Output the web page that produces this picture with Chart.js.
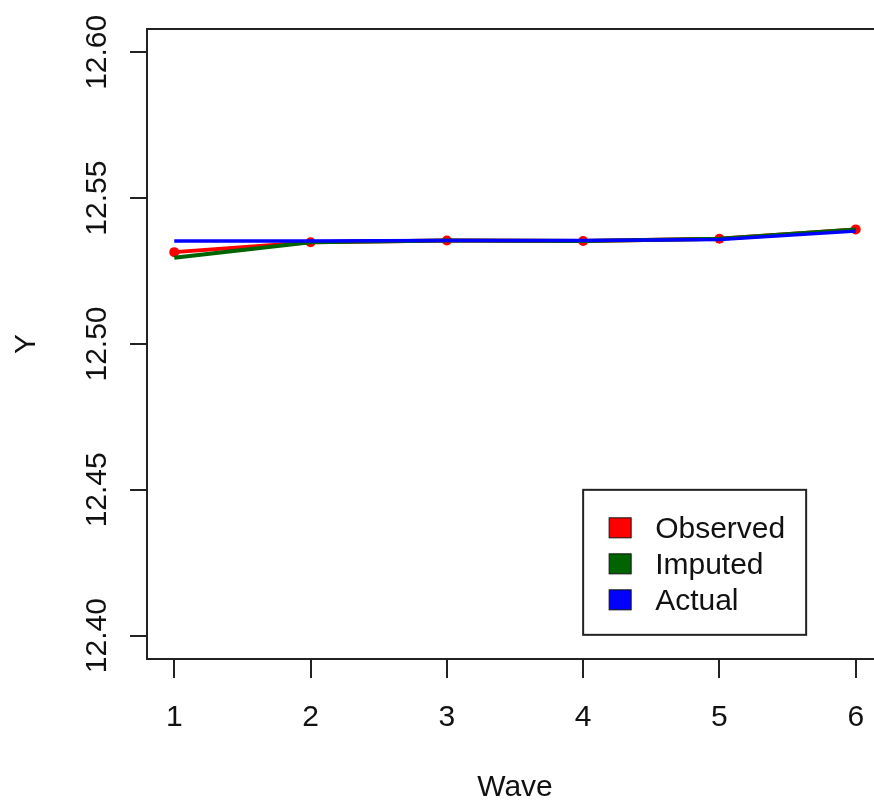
<!DOCTYPE html>
<html>
<head>
<meta charset="utf-8">
<script src="https://cdn.jsdelivr.net/npm/chart.js@4.4.1/dist/chart.umd.min.js"></script>
<style>
  html, body { margin: 0; padding: 0; background: #fff; overflow: hidden; }
  #wrap { width: 888px; height: 803px; }
</style>
</head>
<body>
<div id="wrap"><canvas id="WaveChart" width="888" height="803"></canvas></div>
<script>
const waves = [1, 2, 3, 4, 5, 6];
const observed = [12.5315, 12.5349, 12.5355, 12.5353, 12.5361, 12.5393];
const imputed = [12.5296, 12.5349, 12.5355, 12.5353, 12.5361, 12.5393];
const actual = [12.5353, 12.5353, 12.5355, 12.5355, 12.5358, 12.5387];
const yTicks = [12.40, 12.45, 12.50, 12.55, 12.60];
const legendLabels = ["Observed", "Imputed", "Actual"];
const legendColors = ["#ff0000", "#006400", "#0000ff"];

const FONT = '"Liberation Sans", Arial, sans-serif';
const INK = "#111";

function toPoints(values) {
  return values.map((v, i) => ({ x: waves[i], y: v }));
}

// R-style box around the plot region
const boxPlugin = {
  id: "box",
  afterDraw(chart) {
    const { ctx, chartArea: a } = chart;
    ctx.save();
    ctx.strokeStyle = "#222";
    ctx.lineWidth = 2;
    ctx.strokeRect(a.left, a.top, a.right - a.left, a.bottom - a.top);
    ctx.restore();
  },
};

// vertical tick labels on the y axis, like par(las=0)
const yLabelPlugin = {
  id: "yLabels",
  afterDraw(chart) {
    const { ctx } = chart;
    const scale = chart.scales.y;
    ctx.save();
    ctx.fillStyle = INK;
    ctx.font = `30px ${FONT}`;
    ctx.textAlign = "center";
    ctx.textBaseline = "middle";
    scale.ticks.forEach((t) => {
      ctx.save();
      ctx.translate(98, scale.getPixelForValue(t.value));
      ctx.rotate(-Math.PI / 2);
      ctx.fillText(Number(t.value).toFixed(2), 0, 0);
      ctx.restore();
    });
    ctx.restore();
  },
};

// legend placed at (4, 12.45) in data units
const legendPlugin = {
  id: "rLegend",
  afterDraw(chart) {
    const { ctx } = chart;
    const left = chart.scales.x.getPixelForValue(4);
    const top = chart.scales.y.getPixelForValue(12.45);
    ctx.save();
    ctx.fillStyle = "#fff";
    ctx.fillRect(left, top, 223, 145);
    ctx.strokeStyle = "#222";
    ctx.lineWidth = 2;
    ctx.strokeRect(left, top, 223, 145);
    ctx.font = `30px ${FONT}`;
    ctx.textBaseline = "middle";
    ctx.textAlign = "left";
    legendLabels.forEach((label, i) => {
      const cy = top + 38 + i * 36;
      ctx.fillStyle = legendColors[i];
      ctx.fillRect(left + 26, cy - 10, 22, 20);
      ctx.lineWidth = 1;
      ctx.strokeStyle = "#111";
      ctx.strokeRect(left + 26, cy - 10, 22, 20);
      ctx.fillStyle = INK;
      ctx.fillText(label, left + 72, cy + 2);
    });
    ctx.restore();
  },
};

function renderWaveChart() {
  const canvas = document.querySelector("#WaveChart");
  if (!canvas || typeof Chart === "undefined") return;

  new Chart(canvas, {
    type: "line",
    data: {
      datasets: [
        {
          label: "Actual",
          data: toPoints(actual),
          borderColor: "#0000ff",
          borderWidth: 3.5,
          pointRadius: 0,
          tension: 0,
        },
        {
          label: "Imputed",
          data: toPoints(imputed),
          borderColor: "#006400",
          borderWidth: 4,
          pointRadius: 0,
          tension: 0,
        },
        {
          label: "Observed",
          data: toPoints(observed),
          borderColor: "#ff0000",
          backgroundColor: "#ff0000",
          borderWidth: 4,
          pointRadius: 5,
          pointBorderWidth: 0,
          tension: 0,
        },
      ],
    },
    options: {
      responsive: false,
      animation: false,
      events: [],
      layout: { padding: { top: 29, left: 0, right: 3, bottom: 0 } },
      plugins: {
        legend: { display: false },
        tooltip: { enabled: false },
      },
      scales: {
        x: {
          type: "linear",
          min: 0.8,
          max: 6.2,
          afterBuildTicks(scale) {
            scale.ticks = waves.map((v) => ({ value: v }));
          },
          afterFit(scale) {
            scale.height = 144;
          },
          border: { display: false },
          grid: {
            drawOnChartArea: false,
            drawTicks: true,
            tickLength: 19,
            color: "#222",
            lineWidth: 2,
          },
          ticks: {
            color: INK,
            font: { family: FONT, size: 30 },
            padding: 22,
            maxRotation: 0,
            callback(value) {
              return String(value);
            },
          },
          title: {
            display: true,
            text: "Wave",
            color: INK,
            font: { family: FONT, size: 30, lineHeight: 1 },
            padding: { top: 0, bottom: 0 },
          },
        },
        y: {
          type: "linear",
          min: 12.392,
          max: 12.608,
          afterBuildTicks(scale) {
            scale.ticks = yTicks.map((v) => ({ value: v }));
          },
          afterFit(scale) {
            scale.width = 147;
          },
          border: { display: false },
          grid: {
            drawOnChartArea: false,
            drawTicks: true,
            tickLength: 17,
            color: "#222",
            lineWidth: 2,
          },
          ticks: { display: false },
          title: {
            display: true,
            text: "Y",
            color: INK,
            font: { family: FONT, size: 30, lineHeight: 1 },
            padding: { top: 12, bottom: 0 },
          },
        },
      },
    },
    plugins: [boxPlugin, yLabelPlugin, legendPlugin],
  });
}

document.addEventListener("DOMContentLoaded", () => {
  renderWaveChart();
});
</script>
</body>
</html>
